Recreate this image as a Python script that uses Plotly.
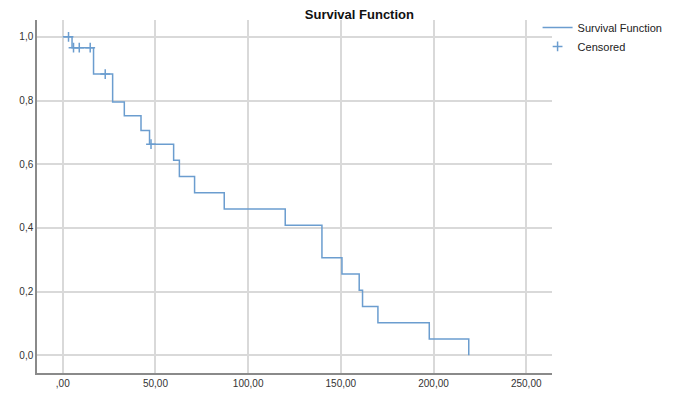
import plotly.graph_objects as go

# Step (event) times and survival estimates
event_times = [0, 5.0, 16.6, 26.9, 33.2, 42.2, 46.8, 59.8, 62.9, 71.1, 87.1, 120.0,
               139.8, 150.6, 159.9, 161.7, 170.0, 197.7, 219.0]
survival = [1.0, 0.966, 0.883, 0.795, 0.752, 0.706, 0.663, 0.612, 0.561, 0.510,
            0.459, 0.408, 0.306, 0.255, 0.204, 0.153, 0.102, 0.051, 0.0]

# Censored observations
censor_times = [3.1, 5.8, 8.9, 14.8, 22.9, 47.6]
censor_surv = [1.0, 0.966, 0.966, 0.966, 0.883, 0.663]

x_ticks = [0, 50, 100, 150, 200, 250]
x_ticktext = [",00", "50,00", "100,00", "150,00", "200,00", "250,00"]
y_ticks = [0.0, 0.2, 0.4, 0.6, 0.8, 1.0]
y_ticktext = ["0,0", "0,2", "0,4", "0,6", "0,8", "1,0"]

color = "#6b9dcf"

fig = go.Figure()
fig.add_trace(go.Scatter(
    x=event_times, y=survival, mode="lines", line_shape="hv",
    line=dict(color=color, width=1.5), name="Survival Function"))
fig.add_trace(go.Scatter(
    x=censor_times, y=censor_surv, mode="markers",
    marker=dict(symbol="cross-thin", size=7, line=dict(color=color, width=1.5), color=color),
    name="Censored"))

fig.update_layout(
    width=682, height=401,
    margin=dict(l=37, r=130, t=20, b=18),
    paper_bgcolor="white", plot_bgcolor="white",
    font=dict(family="Liberation Sans, Arial, sans-serif", color="#333333", size=10),
    title=dict(text="<b>Survival Function</b>", x=0.527, xref="container", xanchor="center",
               y=0.975, yref="container", yanchor="top",
               font=dict(size=13, color="#111111")),
    legend=dict(x=0.972, xanchor="left", y=1.02, yanchor="top",
                font=dict(size=11, color="#222222"), bgcolor="rgba(0,0,0,0)",
                tracegroupgap=0, itemwidth=30),
    showlegend=True,
)
fig.update_xaxes(range=[-13.9, 263.9], tickvals=x_ticks, ticktext=x_ticktext,
                 showgrid=True, gridcolor="#d9d9d9", gridwidth=1.5,
                 showline=True, linecolor="#8a8a8a", linewidth=1.5,
                 zeroline=False, ticks="", tickfont=dict(size=10))
fig.update_yaxes(range=[-0.056, 1.053], tickvals=y_ticks, ticktext=y_ticktext,
                 showgrid=True, gridcolor="#d9d9d9", gridwidth=1.5,
                 showline=True, linecolor="#8a8a8a", linewidth=1.5,
                 zeroline=False, ticks="", tickfont=dict(size=10))

fig.write_html("out.html")
